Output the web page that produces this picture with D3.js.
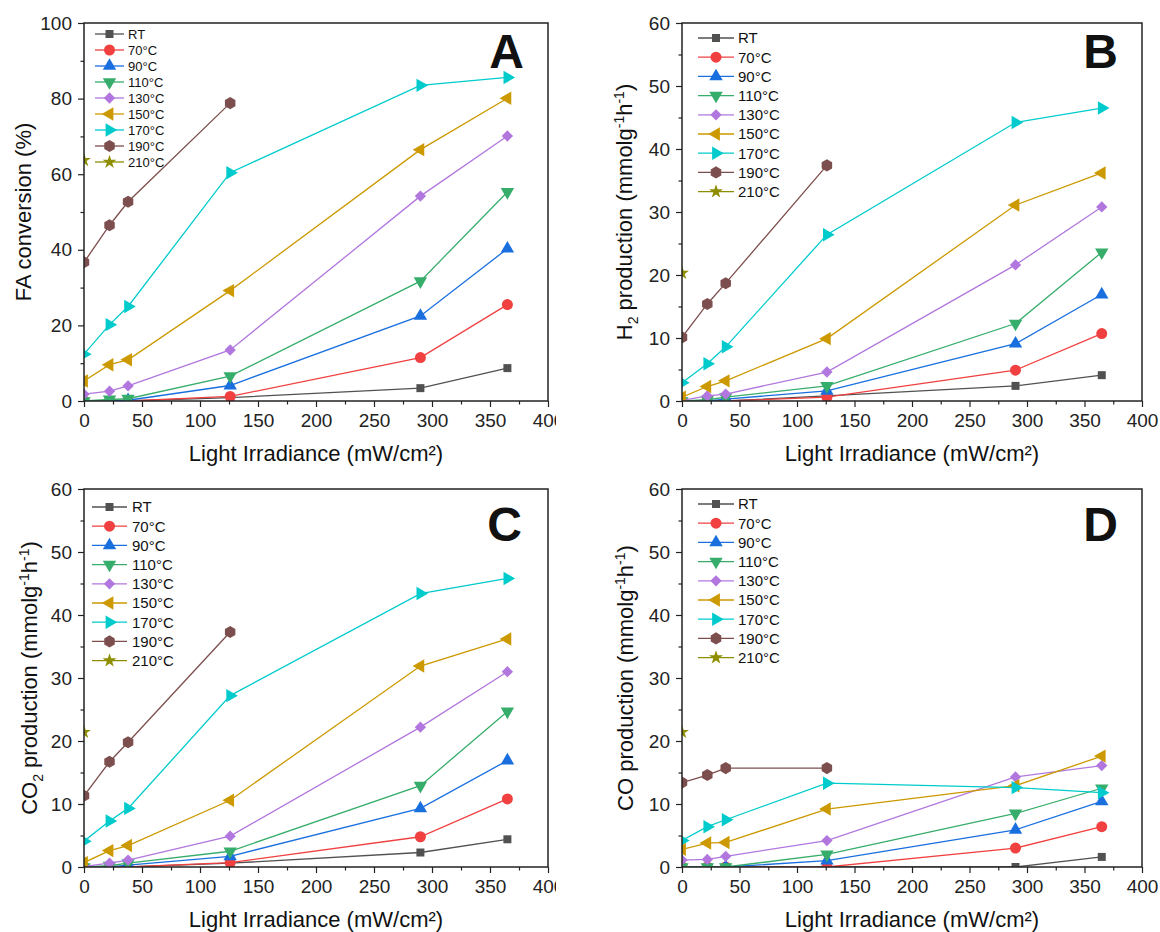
<!DOCTYPE html>
<meta charset="utf-8">
<style>
body { margin: 0; background: #fff; }
text { font-family: Arial, "Liberation Sans", sans-serif; fill: #111; }
path.line { fill: none; stroke-width: 1.3px; }
.axis path.domain { display: none; }
.axis line { stroke: #222; stroke-width: 1.2px; }
.axis text { font-size: 19px; fill: #222; }
</style>
<svg width="1160" height="932" id="chart"></svg>
<script src="https://cdn.jsdelivr.net/npm/d3@7/dist/d3.min.js"></script>
<script>

var irradiance = [0, 22, 38, 126, 290, 365];
var seriesNames = ["RT", "70°C", "90°C", "110°C", "130°C", "150°C", "170°C", "190°C", "210°C"];
var seriesColors = ["#515151", "#f14040", "#1a6fdf", "#37ad6b", "#b177de", "#cc9900", "#00cbcc", "#7d4e4e", "#8e8e00"];
var xTicks = [0, 50, 100, 150, 200, 250, 300, 350, 400];

// one row per series, one value per irradiance (null = not measured)
var faConversion = [
  [0, 0, 0, 0.9, 3.4, 8.7],
  [0, 0, 0, 1.2, 11.5, 25.5],
  [0, 0, 0.2, 4.1, 22.5, 40.3],
  [0, 0.4, 0.6, 6.6, 31.7, 55.3],
  [1.8, 2.6, 4.0, 13.5, 54.2, 70.1],
  [5.3, 9.6, 10.9, 29.2, 66.5, 80.1],
  [12.4, 20.2, 25.0, 60.4, 83.5, 85.6],
  [36.7, 46.5, 52.7, 78.8, null, null],
  [63.7, null, null, null, null, null]
];
var h2Production = [
  [0, 0, 0, 0.8, 2.4, 4.1],
  [0, 0, 0, 0.6, 4.9, 10.7],
  [0, 0, 0.3, 1.6, 9.1, 16.9],
  [0, 0.2, 0.6, 2.4, 12.3, 23.6],
  [0.1, 0.8, 1.1, 4.6, 21.6, 30.8],
  [0.6, 2.3, 3.2, 9.9, 31.1, 36.2],
  [2.9, 5.9, 8.6, 26.4, 44.2, 46.5],
  [10.1, 15.4, 18.7, 37.4, null, null],
  [20.3, null, null, null, null, null]
];
var co2Production = [
  [0, 0, 0, 0.6, 2.3, 4.4],
  [0, 0, 0, 0.7, 4.8, 10.8],
  [0, 0, 0.3, 1.7, 9.3, 16.9],
  [0, 0.2, 0.6, 2.5, 12.9, 24.7],
  [0.1, 0.6, 1.1, 4.9, 22.2, 31.0],
  [0.7, 2.6, 3.4, 10.6, 31.9, 36.2],
  [4.1, 7.3, 9.3, 27.2, 43.4, 45.8],
  [11.3, 16.7, 19.8, 37.3, null, null],
  [21.4, null, null, null, null, null]
];
var coProduction = [
  [0, 0, 0, 0, 0, 1.6],
  [0, 0, 0, 0, 3.0, 6.4],
  [0, 0, 0, 1.0, 5.9, 10.4],
  [0, 0, 0, 2.0, 8.5, 12.5],
  [1.1, 1.2, 1.7, 4.2, 14.3, 16.1],
  [2.8, 3.8, 3.9, 9.2, 12.9, 17.6],
  [4.2, 6.4, 7.5, 13.3, 12.6, 11.8],
  [13.4, 14.6, 15.7, 15.7, null, null],
  [21.4, null, null, null, null, null]
];

var hexagon = {
  draw: function(ctx, size) {
    var r = Math.sqrt(size / (1.5 * Math.sqrt(3)));
    for (var i = 0; i < 6; i++) {
      var a = -Math.PI / 2 + i * Math.PI / 3;
      if (i) ctx.lineTo(r * Math.cos(a), r * Math.sin(a));
      else ctx.moveTo(r * Math.cos(a), r * Math.sin(a));
    }
    ctx.closePath();
  }
};

var markers = [
  {type: d3.symbolSquare, size: 64, rot: 0},
  {type: d3.symbolCircle, size: 95, rot: 0},
  {type: d3.symbolTriangle, size: 78, rot: 0},
  {type: d3.symbolTriangle, size: 78, rot: 180},
  {type: d3.symbolSquare, size: 64, rot: 45},
  {type: d3.symbolTriangle, size: 78, rot: -90},
  {type: d3.symbolTriangle, size: 78, rot: 90},
  {type: hexagon, size: 95, rot: 0},
  {type: d3.symbolStar, size: 60, rot: 0}
];

var unitLabel = [[" (mmolg", ""], ["-1", "sup"], ["h", ""], ["-1", "sup"], [")", ""]];

var panels = [
  {id: "A", data: faConversion, x0: 84, x1: 548, y0: 23, y1: 401, ymax: 100, ystep: 20,
   ylab: [["FA conversion (%)", ""]], ylabX: 31, clip: 556,
   letterX: 524, letterY: 68, leg: {lx0: 95, lx1: 124, tx: 128, ty: 34, dy: 16, fs: 13}},
  {id: "B", data: h2Production, x0: 682, x1: 1142, y0: 23, y1: 401, ymax: 60, ystep: 10,
   ylab: [["H", ""], ["2", "sub"], [" production", ""]].concat(unitLabel), ylabX: 632, clip: null,
   letterX: 1118, letterY: 68, leg: {lx0: 698, lx1: 734, tx: 738, ty: 38, dy: 19.2, fs: 15}},
  {id: "C", data: co2Production, x0: 84, x1: 548, y0: 489, y1: 867, ymax: 60, ystep: 10,
   ylab: [["CO", ""], ["2", "sub"], [" production", ""]].concat(unitLabel), ylabX: 37, clip: 556,
   letterX: 522, letterY: 541, leg: {lx0: 92, lx1: 127, tx: 132, ty: 507, dy: 19.2, fs: 15}},
  {id: "D", data: coProduction, x0: 682, x1: 1142, y0: 489, y1: 867, ymax: 60, ystep: 10,
   ylab: [["CO production", ""]].concat(unitLabel), ylabX: 633, clip: null,
   letterX: 1118, letterY: 541, leg: {lx0: 698, lx1: 734, tx: 738, ty: 504, dy: 19.2, fs: 15}}
];

var svg = d3.select("svg#chart");
var defs = svg.append("defs");

function markerPath(i) {
  return d3.symbol().type(markers[i].type).size(markers[i].size)();
}

panels.forEach(function(p) {
  var x = d3.scaleLinear().domain([0, 400]).range([p.x0, p.x1]);
  var y = d3.scaleLinear().domain([0, p.ymax]).range([p.y1, p.y0]);

  var g = svg.append("g");
  if (p.clip) {
    defs.append("clipPath").attr("id", "panel" + p.id)
      .append("rect").attr("x", 0).attr("y", p.y0 - 30).attr("width", p.clip).attr("height", 480);
    g.attr("clip-path", "url(#panel" + p.id + ")");
  }
  defs.append("clipPath").attr("id", "plot" + p.id)
    .append("rect").attr("x", p.x0).attr("y", p.y0)
    .attr("width", p.x1 - p.x0).attr("height", p.y1 - p.y0);

  var yTicks = d3.range(0, p.ymax + 0.1, p.ystep);
  var yMinor = d3.range(p.ystep / 2, p.ymax, p.ystep);
  var xMinor = d3.range(25, 400, 50);

  g.append("g").attr("class", "axis")
    .attr("transform", "translate(0," + p.y1 + ")")
    .call(d3.axisBottom(x).tickValues(xTicks).tickSize(6).tickPadding(7).tickFormat(d3.format("d")));
  g.append("g").attr("class", "axis")
    .attr("transform", "translate(0," + p.y1 + ")")
    .call(d3.axisBottom(x).tickValues(xMinor).tickSize(3.5).tickFormat(""));
  g.append("g").attr("class", "axis")
    .attr("transform", "translate(" + p.x0 + ",0)")
    .call(d3.axisLeft(y).tickValues(yTicks).tickSize(6).tickPadding(6).tickFormat(d3.format("d")));
  g.append("g").attr("class", "axis")
    .attr("transform", "translate(" + p.x0 + ",0)")
    .call(d3.axisLeft(y).tickValues(yMinor).tickSize(3.5).tickFormat(""));

  // series
  var plot = g.append("g").attr("clip-path", "url(#plot" + p.id + ")");
  var line = d3.line()
    .defined(function(d) { return d.v != null; })
    .x(function(d) { return x(d.x); })
    .y(function(d) { return y(d.v); });

  p.data.forEach(function(vals, i) {
    var pts = irradiance.map(function(xv, j) { return {x: xv, v: vals[j]}; });
    plot.append("path").attr("class", "line")
      .attr("stroke", seriesColors[i])
      .attr("d", line(pts));
    plot.selectAll(null)
      .data(pts.filter(function(d) { return d.v != null; }))
      .enter().append("path")
      .attr("d", markerPath(i))
      .attr("fill", seriesColors[i])
      .attr("transform", function(d) {
        return "translate(" + x(d.x) + "," + y(d.v) + ") rotate(" + markers[i].rot + ")";
      });
  });

  // frame
  g.append("rect")
    .attr("x", p.x0).attr("y", p.y0)
    .attr("width", p.x1 - p.x0).attr("height", p.y1 - p.y0)
    .attr("fill", "none").attr("stroke", "#222").attr("stroke-width", 1.5);

  // legend
  var lg = g.append("g");
  seriesNames.forEach(function(name, i) {
    var ly = p.leg.ty + i * p.leg.dy;
    lg.append("line")
      .attr("x1", p.leg.lx0).attr("x2", p.leg.lx1)
      .attr("y1", ly).attr("y2", ly)
      .attr("stroke", seriesColors[i]).attr("stroke-width", 1.3);
    lg.append("path")
      .attr("d", markerPath(i))
      .attr("fill", seriesColors[i])
      .attr("transform", "translate(" + (p.leg.lx0 + p.leg.lx1) / 2 + "," + ly + ") rotate(" + markers[i].rot + ")");
    lg.append("text")
      .attr("x", p.leg.tx).attr("y", ly)
      .attr("dy", "0.36em")
      .style("font-size", p.leg.fs + "px")
      .text(name);
  });

  // panel letter
  g.append("text")
    .attr("x", p.letterX).attr("y", p.letterY)
    .attr("text-anchor", "end")
    .style("font-size", "48px").style("font-weight", "bold")
    .text(p.id);

  // x title
  g.append("text")
    .attr("x", (p.x0 + p.x1) / 2).attr("y", p.y1 + 60)
    .attr("text-anchor", "middle")
    .style("font-size", "22px")
    .text("Light Irradiance (mW/cm²)");

  // y title
  var yt = g.append("text")
    .attr("transform", "translate(" + p.ylabX + "," + (p.y0 + p.y1) / 2 + ") rotate(-90)")
    .attr("text-anchor", "middle")
    .style("font-size", "22px");
  var shift = 0;
  p.ylab.forEach(function(part) {
    var t = yt.append("tspan").text(part[0]);
    var target = part[1] === "sub" ? 6 : part[1] === "sup" ? -8 : 0;
    if (target !== shift) { t.attr("dy", target - shift); shift = target; }
    if (part[1]) t.style("font-size", "14px");
  });
});

</script>
